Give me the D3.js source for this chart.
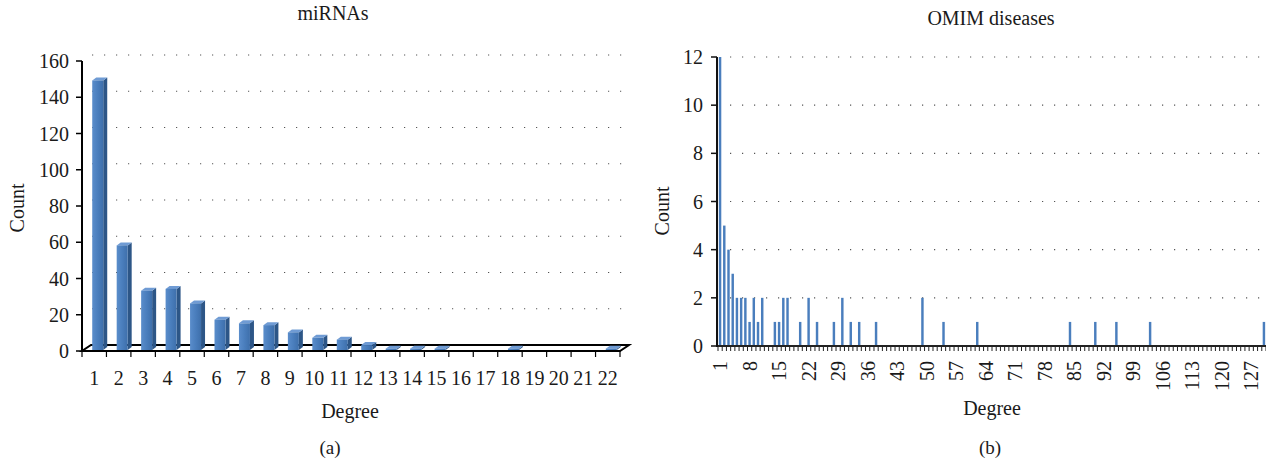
<!DOCTYPE html>
<html><head><meta charset="utf-8">
<script src="https://cdn.jsdelivr.net/npm/d3@7"></script>
<style>
body{margin:0;background:#fff}
svg{display:block}
text{font-family:"Liberation Serif","DejaVu Serif",serif;fill:#1a1a1a}
</style>
</head><body>
<svg id="c" width="1266" height="467"></svg>
<script>
// ---- Data: panel (a) miRNAs ----
const mirnaDegrees = ["1","2","3","4","5","6","7","8","9","10","11","12","13","14","15","16","17","18","19","20","21","22"];
const mirnaCounts  = [149,58,33,34,26,17,15,14,10,7,6,3,1,1,1,0,0,1,0,0,0,1];
const mirnaTicks   = [0,20,40,60,80,100,120,140,160];

// ---- Data: panel (b) OMIM diseases ----
const omimDegrees = d3.range(1,131);           // categories 1..130
const omimDegreesWithCount = [1,2,3,4,5,6,7,8,9,10,11,14,15,16,17,20,22,24,28,30,32,34,38,49,54,62,84,90,95,103,130];
const omimCountValues      = [12,5,4,3,2,2,2,1,2,1,2,1,1,2,2,1,2,1,1,2,1,1,1,2,1,1,1,1,1,1,1];
const omimTicks  = [0,2,4,6,8,10,12];
const omimLabels = [1,8,15,22,29,36,43,50,57,64,71,78,85,92,99,106,113,120,127];

const titles = {a:"miRNAs", b:"OMIM diseases"};

const svg = d3.select("#c");
const FS = 20;

const defs = svg.append("defs");
const lg = defs.append("linearGradient").attr("id","barGrad").attr("x1","0").attr("x2","1").attr("y1","0").attr("y2","0");
lg.append("stop").attr("offset","0").attr("stop-color","#5a8dcb");
lg.append("stop").attr("offset","0.5").attr("stop-color","#4a7ebd");
lg.append("stop").attr("offset","1").attr("stop-color","#3e6fab");

// ================= Panel (a): pseudo-3D column chart =================
(function(){
  const g = svg.append("g");
  const x0 = 82, x1 = 620, yBase = 351, yTop = 61;
  const DX = 9, DY = -6;
  const x = d3.scaleBand().domain(mirnaDegrees).range([x0, x1]).paddingInner(0).paddingOuter(0);
  const y = d3.scaleLinear().domain([0,160]).range([yBase, yTop]);

  g.selectAll(".grid").data(mirnaTicks.filter(t=>t>0)).join("line")
    .attr("x1", x0+DX+1).attr("x2", x1+DX-4)
    .attr("y1", d=>y(d)+DY).attr("y2", d=>y(d)+DY)
    .attr("stroke","#555").attr("stroke-width",1.2).attr("stroke-dasharray","1.2,10.8");

  g.append("path")
    .attr("d", `M${x0},${yBase} L${x1},${yBase} L${x1+DX},${yBase+DY} L${x0+DX},${yBase+DY} Z`)
    .attr("fill","#fff").attr("stroke","#000").attr("stroke-width",2).attr("stroke-linejoin","miter");

  const bounds = mirnaDegrees.map(d=>x(d)).concat([x1]);
  g.selectAll(".xt").data(bounds).join("line")
    .attr("x1",d=>d).attr("x2",d=>d).attr("y1",yBase).attr("y2",yBase+6)
    .attr("stroke","#000").attr("stroke-width",1.2);

  const w = 11, mdx = 3.5, sdx = 4, sdy = -3;
  const data = mirnaDegrees.map((d,i)=>({d, v:mirnaCounts[i]})).filter(o=>o.v>0);
  const bars = g.selectAll(".bar").data(data).join("g");
  bars.each(function(o){
    const gg = d3.select(this);
    const cx = x(o.d) + x.bandwidth()/2 + mdx;
    const L = cx - w/2, R = cx + w/2;
    const B = yBase - 1, T = y(o.v) - 0.5;
    gg.append("path").attr("d",`M${R},${T} L${R+sdx},${T+sdy} L${R+sdx},${B+sdy} L${R},${B} Z`).attr("fill","#2d5687");
    gg.append("path").attr("d",`M${L},${T} L${R},${T} L${R+sdx},${T+sdy} L${L+sdx},${T+sdy} Z`).attr("fill","#6f9bd4");
    gg.append("rect").attr("x",L).attr("y",T).attr("width",w).attr("height",Math.max(0.5,B-T)).attr("fill","url(#barGrad)");
  });

  g.append("line").attr("x1",x0).attr("x2",x0).attr("y1",yTop).attr("y2",yBase)
    .attr("stroke","#000").attr("stroke-width",2);
  g.selectAll(".yt").data(mirnaTicks).join("line")
    .attr("x1",x0-6).attr("x2",x0).attr("y1",d=>y(d)).attr("y2",d=>y(d))
    .attr("stroke","#000").attr("stroke-width",1.5);
  g.selectAll(".yl").data(mirnaTicks).join("text")
    .attr("x",x0-13).attr("y",d=>y(d)).attr("dy","0.35em").attr("text-anchor","end")
    .attr("font-size",FS).text(d=>d);

  g.selectAll(".xl").data(mirnaDegrees).join("text")
    .attr("x",d=>x(d)+x.bandwidth()/2).attr("y",385).attr("text-anchor","middle")
    .attr("font-size",FS).text(d=>d);

  g.append("text").attr("x",333).attr("y",20).attr("text-anchor","middle").attr("font-size",FS).text(titles.a);
  g.append("text").attr("x",350).attr("y",418).attr("text-anchor","middle").attr("font-size",FS).text("Degree");
  g.append("text").attr("transform","translate(24,208) rotate(-90)").attr("text-anchor","middle").attr("font-size",FS).text("Count");
  g.append("text").attr("x",330).attr("y",454).attr("text-anchor","middle").attr("font-size",FS-1).text("(a)");
})();

// ================= Panel (b): flat column chart =================
(function(){
  const g = svg.append("g");
  const x0 = 718, x1 = 1266, yBase = 346, yTop = 57;
  const x = d3.scaleBand().domain(omimDegrees).range([x0, x1]).paddingInner(0.42).paddingOuter(0.2);
  const y = d3.scaleLinear().domain([0,12]).range([yBase, yTop]);
  const countOf = new Map(omimDegreesWithCount.map((d,i)=>[d, omimCountValues[i]]));
  const data = omimDegrees.map(d=>({d, v: countOf.get(d) || 0}));

  g.selectAll(".grid").data(omimTicks.filter(t=>t>0)).join("line")
    .attr("x1", x0+12).attr("x2", x1-4)
    .attr("y1", d=>y(d)).attr("y2", d=>y(d))
    .attr("stroke","#555").attr("stroke-width",1.2).attr("stroke-dasharray","1.2,10.8");

  g.selectAll(".bar").data(data.filter(o=>o.v>0)).join("rect")
    .attr("x",o=>x(o.d)).attr("width",x.bandwidth())
    .attr("y",o=>y(o.v)).attr("height",o=>yBase-y(o.v))
    .attr("fill","#4a7ebd");

  const bounds = d3.range(0, omimDegrees.length+1).map(i=>x0 + i*(x1-x0)/omimDegrees.length);
  g.selectAll(".xt").data(bounds).join("line")
    .attr("x1",d=>d).attr("x2",d=>d).attr("y1",yBase).attr("y2",yBase+5)
    .attr("stroke","#222").attr("stroke-width",1);
  g.append("line").attr("x1",x0).attr("x2",x1).attr("y1",yBase).attr("y2",yBase)
    .attr("stroke","#222").attr("stroke-width",2);

  g.append("line").attr("x1",x0-1).attr("x2",x0-1).attr("y1",yTop).attr("y2",yBase+1)
    .attr("stroke","#111").attr("stroke-width",2);
  g.selectAll(".yt").data(omimTicks).join("line")
    .attr("x1",x0-7).attr("x2",x0-1).attr("y1",d=>y(d)).attr("y2",d=>y(d))
    .attr("stroke","#111").attr("stroke-width",1.5);
  g.selectAll(".yl").data(omimTicks).join("text")
    .attr("x",x0-15).attr("y",d=>y(d)).attr("dy","0.35em").attr("text-anchor","end")
    .attr("font-size",FS).text(d=>d);

  g.selectAll(".xl").data(omimLabels).join("text")
    .attr("transform",d=>`translate(${x(d)+x.bandwidth()/2},361) rotate(-90)`)
    .attr("dy","0.35em").attr("text-anchor","end")
    .attr("font-size",FS).text(d=>d);

  g.append("text").attr("x",991).attr("y",25).attr("text-anchor","middle").attr("font-size",FS).text(titles.b);
  g.append("text").attr("x",992).attr("y",415).attr("text-anchor","middle").attr("font-size",FS).text("Degree");
  g.append("text").attr("transform","translate(669,211) rotate(-90)").attr("text-anchor","middle").attr("font-size",FS).text("Count");
  g.append("text").attr("x",990).attr("y",454).attr("text-anchor","middle").attr("font-size",FS-1).text("(b)");
})();
</script>
</body></html>
